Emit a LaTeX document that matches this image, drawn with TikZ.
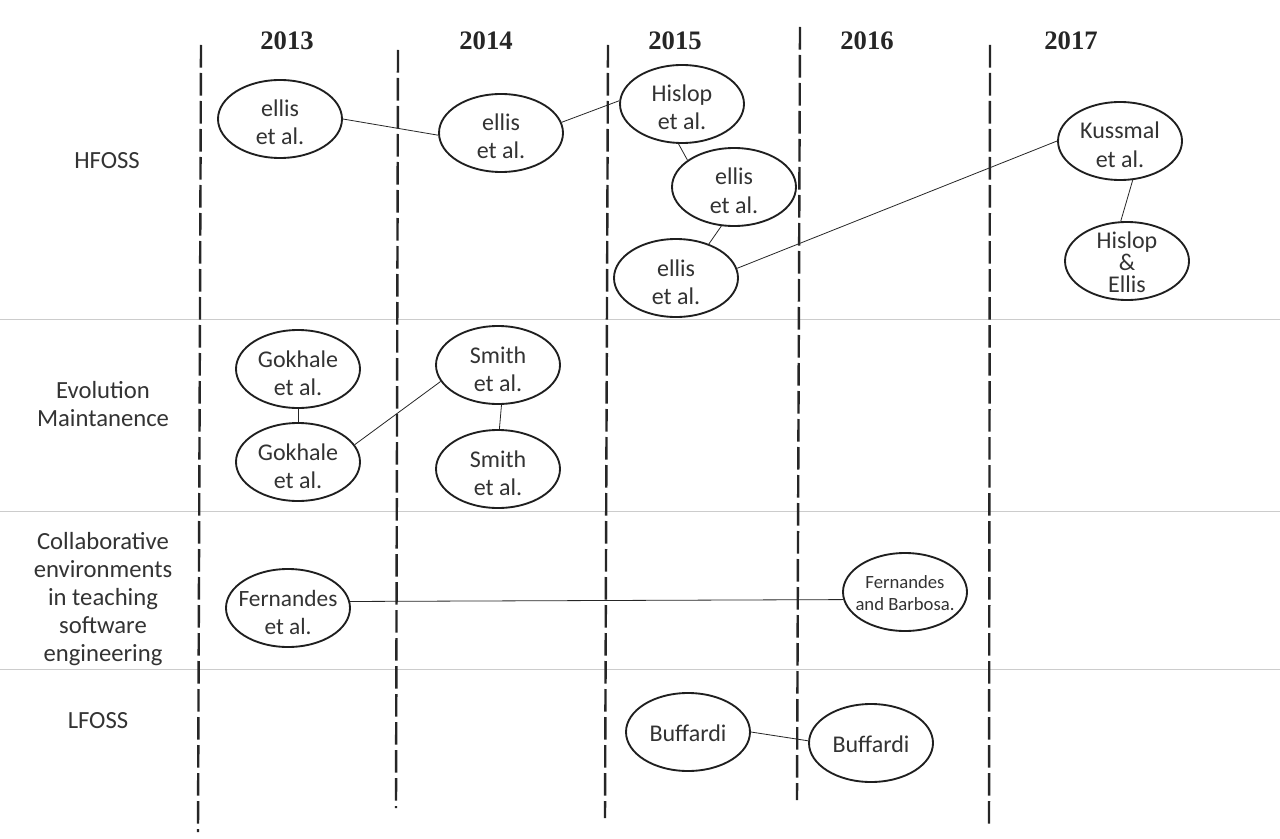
\documentclass[tikz,border=0pt]{standalone}
\usepackage{fontspec}
\setmainfont{Carlito}
\newfontfamily\yearfont{Liberation Serif}
\usetikzlibrary{shapes.geometric}
\newcommand\topstrut{\rule{0pt}{22.5pt}}
\newcommand\onestrut{\rule{0pt}{18pt}}
\newcommand\smalltopstrut{\rule{0pt}{15.5pt}}
\newcommand\botstrut{\rule[-4.5pt]{0pt}{4.5pt}}
\begin{document}
\begin{tikzpicture}[x=0.75pt,y=-0.75pt,
  pub/.style={ellipse,draw=black!88,line width=1.4pt,minimum width=93pt,minimum height=58.5pt,
    inner xsep=-8pt,inner ysep=-8pt,align=center,font=\fontsize{18}{21}\selectfont,text=black!80},
  rowlab/.style={align=center,font=\fontsize{18.5}{21}\selectfont,text=black!80},
  yearlab/.style={font=\yearfont\bfseries\fontsize{20}{22}\selectfont,text=black!85},
  yearline/.style={draw=black!85,line width=1.8pt,dash pattern=on 17pt off 4pt},
  sep/.style={draw=black!20,line width=0.75pt},
  link/.style={draw=black!85,line width=0.6pt}]
\useasboundingbox (0,0) rectangle (1280,838);
\fill[white] (0,0) rectangle (1280,838);

% separators
\draw[sep] (0,319) -- (1280,319);
\draw[sep] (0,511) -- (1280,511);
\draw[sep] (0,669) -- (1280,669);

% year lines
\draw[yearline] (201,45) -- (198,832);
\draw[yearline] (398,50) -- (396,808);
\draw[yearline] (608,45) -- (605,818);
\draw[yearline] (800,27) -- (797,800);
\draw[yearline] (990,45) -- (989,828);

% years
\node[yearlab] (y13) at (287,41) {2013};
\node[yearlab] (y14) at (486,41) {2014};
\node[yearlab] (y15) at (675,41) {2015};
\node[yearlab] (y16) at (867,41) {2016};
\node[yearlab] (y17) at (1071,41) {2017};

% row labels
\node[rowlab] (r1) at (107,161) {HFOSS};
\node[rowlab] (r2) at (103,404) {Evolution\\Maintanence};
\node[rowlab] (r3) at (103,599) {Collaborative\\environments\\in teaching\\software\\engineering};
\node[rowlab] (r4) at (98,721) {LFOSS};

% publications
\node[pub] (e1) at (280,119) {\topstrut ellis\\et al.\botstrut};
\node[pub] (e2) at (501,133) {\topstrut ellis\\et al.\botstrut};
\node[pub] (h1) at (682,104) {\topstrut Hislop\\et al.\botstrut};
\node[pub] (e3) at (734,187) {\topstrut ellis\\et al.\botstrut};
\node[pub] (e4) at (676,278) {\topstrut ellis\\et al.\botstrut};
\node[pub] (k1) at (1120,141) {\topstrut Kussmal\\et al.\botstrut};
\node[pub,font=\fontsize{18}{16.5}\selectfont] (he) at (1127,261) {\onestrut Hislop\\\&\\Ellis\botstrut};
\node[pub] (g1) at (298,369) {\topstrut Gokhale\\et al.\botstrut};
\node[pub] (g2) at (298,462) {\topstrut Gokhale\\et al.\botstrut};
\node[pub] (s1) at (498,365) {\topstrut Smith\\et al.\botstrut};
\node[pub] (s2) at (498,469) {\topstrut Smith\\et al.\botstrut};
\node[pub,font=\fontsize{17.5}{21}\selectfont] (f1) at (288,608) {\topstrut Fernandes\\et al.\botstrut};
\node[pub,font=\fontsize{14}{16}\selectfont] (f2) at (905,592) {\smalltopstrut Fernandes\\and Barbosa.\botstrut};
\node[pub] (b1) at (688,732) {\onestrut Buffardi\botstrut};
\node[pub] (b2) at (871,743) {\onestrut Buffardi\botstrut};

% links
\draw[link] (e1.east) -- (e2.182);
\draw[link] (e2.10) -- (h1.177);
\draw[link] (h1.265) -- (e3.150);
\draw[link] (e3.252) -- (e4.46);
\draw[link] (e4.9) -- (k1.west);
\draw[link] (k1.288) -- (he.99);
\draw[link] (g1.south) -- (g2.north);
\draw[link] (g2.17) -- (s1.196);
\draw[link] (s1.275) -- (s2.88);
\draw[link] (f1.6) -- (f2.187);
\draw[link] (b1.east) -- (b2.178);
\end{tikzpicture}
\end{document}
